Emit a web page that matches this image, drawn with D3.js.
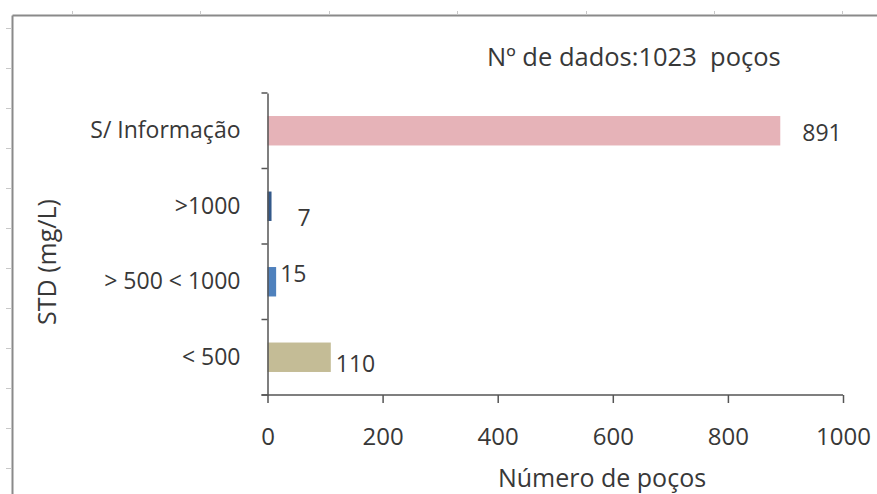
<!DOCTYPE html>
<html>
<head>
<meta charset="utf-8">
<script src="https://cdn.jsdelivr.net/npm/d3@7"></script>
<style>
  html, body { margin: 0; padding: 0; background: #fff; }
  svg text { font-family: "Open Sans", "Liberation Sans", sans-serif; fill: #383838; }
</style>
</head>
<body>
<svg id="chart" width="877" height="494"></svg>
<script>
// Categories in drawing order, top to bottom
const categories = ["S/ Informação", ">1000", "> 500 < 1000", "< 500"];
const wellCounts = [891, 7, 15, 110];
const barColors = ["#e6b3b8", "#34598a", "#4f81bd", "#c4bc96"];
const xTicks = [0, 200, 400, 600, 800, 1000];
const titleText = "Nº de dados:1023  poços";
const xAxisTitle = "Número de poços";
const yAxisTitle = "STD (mg/L)";

const svg = d3.select("#chart");
const ink = "#383838";
const font = '"Open Sans", "Liberation Sans", sans-serif';

// Outer frame with small gridline stubs along the top and left edges
const frame = svg.append("g").attr("stroke", "#8a8a8a");
frame.append("line").attr("x1", 12.5).attr("x2", 877).attr("y1", 15.5).attr("y2", 15.5).attr("stroke-width", 2);
frame.append("line").attr("x1", 12.5).attr("x2", 12.5).attr("y1", 15.5).attr("y2", 494).attr("stroke-width", 2);
d3.range(72, 877, 128.4).forEach(px => {
  frame.append("line").attr("x1", Math.round(px) + 0.5).attr("x2", Math.round(px) + 0.5)
    .attr("y1", 11).attr("y2", 15).attr("stroke", "#c8c8c8");
});
d3.range(28, 494, 40).forEach(py => {
  frame.append("line").attr("x1", 6).attr("x2", 12).attr("y1", py + 0.5).attr("y2", py + 0.5)
    .attr("stroke", "#c8c8c8");
});

// Plot area
const plotLeft = 267.5, plotRight = 843, plotTop = 93, plotBottom = 395;

const x = d3.scaleLinear().domain([0, 1000]).range([plotLeft, plotRight]);
const y = d3.scaleBand().domain(categories).range([plotTop, plotBottom]).padding(0);
const barH = y.bandwidth() * 0.39;

// Bars
svg.append("g").selectAll("rect")
  .data(categories)
  .join("rect")
  .attr("x", x(0))
  .attr("y", d => y(d) + (y.bandwidth() - barH) / 2)
  .attr("width", (d, i) => x(wellCounts[i]) - x(0))
  .attr("height", barH)
  .attr("fill", (d, i) => barColors[i]);

// Value labels (nudged per bar, spreadsheet-style placement)
const labelNudge = { "S/ Informação": [22, 2], ">1000": [26, 11], "> 500 < 1000": [4, -8], "< 500": [5, 6] };
svg.append("g").selectAll("text")
  .data(categories)
  .join("text")
  .attr("x", (d, i) => x(wellCounts[i]) + labelNudge[d][0])
  .attr("y", d => y(d) + y.bandwidth() / 2 + labelNudge[d][1])
  .attr("dy", "0.36em")
  .attr("font-size", 23)
  .text((d, i) => wellCounts[i]);

// Y axis: line, category labels, separator ticks between categories
const yAxis = svg.append("g").attr("transform", `translate(${plotLeft},0)`)
  .call(d3.axisLeft(y).tickSize(0).tickPadding(27));
yAxis.select(".domain").attr("stroke", "#555").attr("stroke-width", 1.5);
yAxis.selectAll("text").attr("font-size", 23).attr("fill", ink).style("font-family", font);
const yBounds = categories.map(c => y(c)).concat([plotBottom]);
svg.append("g").selectAll("line").data(yBounds).join("line")
  .attr("x1", plotLeft - 6).attr("x2", plotLeft)
  .attr("y1", d => d).attr("y2", d => d)
  .attr("stroke", "#555").attr("stroke-width", 1.5);

// X axis
const xAxis = svg.append("g").attr("transform", `translate(0,${plotBottom})`)
  .call(d3.axisBottom(x).tickValues(xTicks).tickFormat(d3.format("d"))
    .tickSize(8).tickSizeOuter(0).tickPadding(25));
xAxis.select(".domain").remove();
xAxis.selectAll(".tick line").attr("stroke", "#555").attr("stroke-width", 1.5);
xAxis.selectAll("text").attr("font-size", 24).attr("fill", ink).style("font-family", font);
svg.append("line").attr("x1", plotLeft - 6).attr("x2", plotRight)
  .attr("y1", plotBottom).attr("y2", plotBottom)
  .attr("stroke", "#555").attr("stroke-width", 1.5);

// Axis titles
svg.append("text")
  .attr("x", 602)
  .attr("y", 478).attr("dy", "0.36em")
  .attr("text-anchor", "middle").attr("font-size", 25)
  .text(xAxisTitle);

svg.append("text")
  .attr("transform", "translate(47,262) rotate(-90)")
  .attr("dy", "0.36em")
  .attr("text-anchor", "middle").attr("font-size", 25)
  .text(yAxisTitle);

// Dataset size note
svg.append("text")
  .attr("x", 487).attr("y", 57).attr("dy", "0.36em")
  .attr("font-size", 25.5)
  .style("white-space", "pre")
  .text(titleText);
</script>
</body>
</html>
